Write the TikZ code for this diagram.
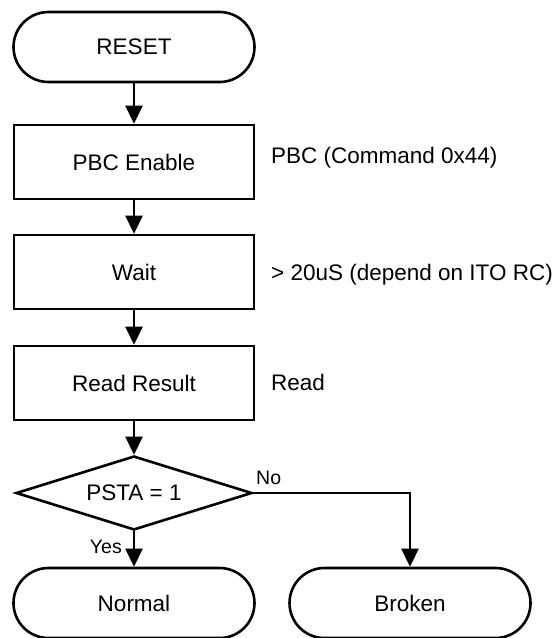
\documentclass[tikz,border=0pt]{standalone}
\usepackage{fontspec}
\setmainfont{Liberation Sans}
\usetikzlibrary{shapes.geometric,arrows.meta}
\begin{document}
\begin{tikzpicture}[x=1pt,y=-1pt,
  every node/.style={font=\fontsize{22.5}{27}\selectfont},
  term/.style={draw,line width=2.6pt,rectangle,rounded corners=35pt,minimum width=241pt,minimum height=70pt,inner sep=0pt},
  procbox/.style={draw,line width=2.6pt,rectangle,minimum width=240pt,minimum height=74pt,inner sep=0pt},
  decis/.style={draw,line width=2.6pt,diamond,aspect=3.2,minimum width=236pt,minimum height=74pt,inner sep=0pt},
  note/.style={anchor=west,inner sep=0pt},
  small/.style={font=\fontsize{19.5}{23}\selectfont,inner sep=0pt},
  flow/.style={line width=2.6pt,-{Triangle[width=17pt,length=18pt]}}
]
\useasboundingbox (0,0) rectangle (559,638);
\node[term] (reset) at (134,47) {RESET};
\node[procbox] (pbc) at (134,162) {PBC Enable};
\node[procbox] (wait) at (134,272) {Wait};
\node[procbox] (read) at (134,383) {Read Result};
\node[decis] (dec) at (134,493) {PSTA = 1};
\node[term] (normal) at (134,603) {Normal};
\node[term] (broken) at (410,603) {Broken};
\node[note] (n1) at (271,158) {PBC (Command 0x44)};
\node[note] (n2) at (271,275) {> 20uS (depend on ITO RC)};
\node[note] (n3) at (271,382) {Read};
\draw[flow] (reset) -- (pbc);
\draw[flow] (pbc) -- (wait);
\draw[flow] (wait) -- (read);
\draw[flow] (read) -- (dec);
\draw[flow] (dec) -- (normal);
\draw[flow] (dec.east) -| (broken.north);
\node[small,anchor=west] (no) at (256,478) {No};
\node[small,anchor=east] (yes) at (122,547) {Yes};
\end{tikzpicture}
\end{document}
